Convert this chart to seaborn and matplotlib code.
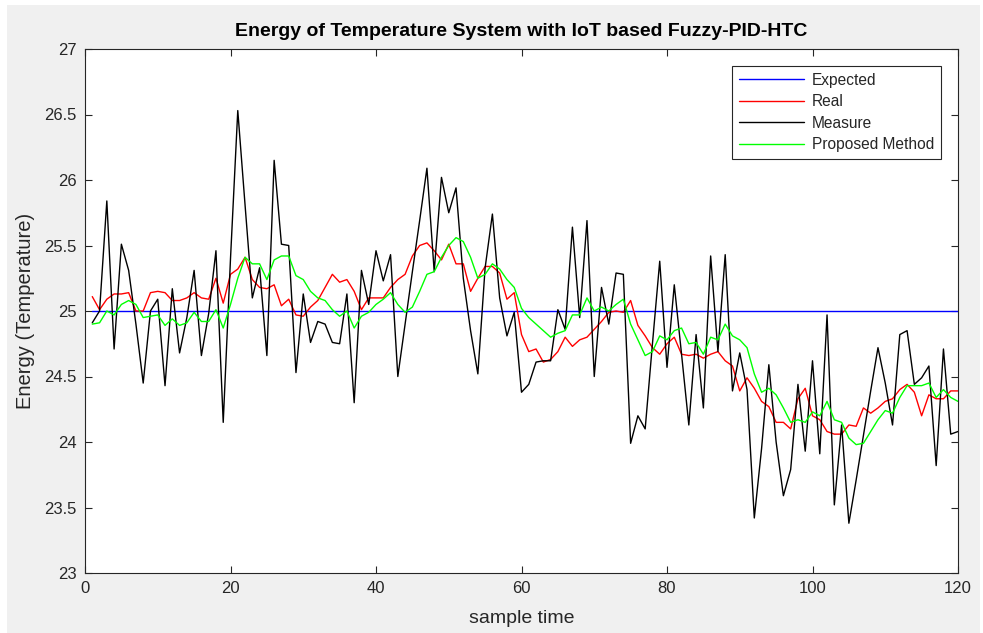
import numpy as np
import pandas as pd
import matplotlib
matplotlib.use("Agg")
import matplotlib.pyplot as plt
import seaborn as sns
from matplotlib.patches import Rectangle

# sample index 1..120
sample_time = list(range(1, 121))
expected_level = 25.0

measure = [
    24.91, 25.00, 25.84, 24.71, 25.51, 25.31, 24.90, 24.45, 25.00, 25.09,
    24.43, 25.17, 24.68, 24.95, 25.31, 24.66, 24.98, 25.46, 24.15, 25.40,
    26.53, 25.81, 25.10, 25.33, 24.66, 26.15, 25.51, 25.50, 24.53, 25.13,
    24.76, 24.92, 24.90, 24.76, 24.75, 25.13, 24.30, 25.31, 25.05, 25.46,
    25.23, 25.43, 24.50, 24.90, 25.30, 25.69, 26.09, 25.30, 26.02, 25.75,
    25.94, 25.25, 24.85, 24.52, 25.33, 25.74, 25.10, 24.81, 24.99, 24.38,
    24.44, 24.61, 24.62, 24.62, 25.01, 24.86, 25.64, 24.95, 25.69, 24.50,
    25.18, 24.90, 25.29, 25.28, 23.99, 24.20, 24.10, 24.75, 25.38, 24.57,
    25.20, 24.67, 24.13, 24.82, 24.26, 25.42, 24.69, 25.43, 24.39, 24.68,
    24.40, 23.42, 23.95, 24.59, 24.00, 23.59, 23.79, 24.44, 23.93, 24.62,
    23.91, 24.97, 23.52, 24.13, 23.38, 23.71, 24.05, 24.39, 24.72, 24.45,
    24.13, 24.82, 24.85, 24.44, 24.49, 24.58, 23.82, 24.71, 24.06, 24.08,
]

real = [
    25.11, 25.01, 25.09, 25.13, 25.13, 25.14, 25.00, 25.00, 25.14, 25.15,
    25.14, 25.08, 25.08, 25.10, 25.14, 25.10, 25.09, 25.25, 25.06, 25.28,
    25.32, 25.41, 25.24, 25.18, 25.17, 25.20, 25.04, 25.09, 24.97, 24.96,
    25.03, 25.08, 25.18, 25.28, 25.22, 25.24, 25.15, 25.01, 25.10, 25.10,
    25.10, 25.18, 25.24, 25.28, 25.42, 25.50, 25.52, 25.46, 25.39, 25.51,
    25.36, 25.36, 25.15, 25.25, 25.34, 25.34, 25.29, 25.09, 25.14, 24.82,
    24.69, 24.71, 24.61, 24.63, 24.69, 24.80, 24.73, 24.78, 24.80, 24.86,
    24.92, 24.99, 25.00, 24.99, 25.08, 24.89, 24.81, 24.72, 24.67, 24.75,
    24.80, 24.67, 24.66, 24.67, 24.64, 24.67, 24.69, 24.62, 24.58, 24.39,
    24.49, 24.41, 24.31, 24.27, 24.15, 24.15, 24.10, 24.33, 24.41, 24.20,
    24.17, 24.08, 24.06, 24.06, 24.13, 24.12, 24.26, 24.22, 24.26, 24.31,
    24.33, 24.40, 24.44, 24.38, 24.20, 24.36, 24.33, 24.33, 24.39, 24.39,
]

proposed = [
    24.90, 24.91, 25.00, 24.97, 25.05, 25.08, 25.05, 24.95, 24.96, 24.97,
    24.89, 24.94, 24.89, 24.91, 24.99, 24.92, 24.92, 25.01, 24.87, 25.05,
    25.25, 25.41, 25.36, 25.36, 25.24, 25.39, 25.42, 25.42, 25.27, 25.24,
    25.15, 25.10, 25.08, 25.01, 24.96, 25.00, 24.87, 24.96, 24.99, 25.05,
    25.09, 25.14, 25.05, 24.99, 25.03, 25.15, 25.28, 25.30, 25.41, 25.50,
    25.56, 25.53, 25.41, 25.25, 25.28, 25.36, 25.32, 25.24, 25.18, 25.02,
    24.95, 24.90, 24.85, 24.80, 24.83, 24.85, 24.97, 24.97, 25.10, 25.00,
    25.03, 25.00, 25.05, 25.09, 24.90, 24.78, 24.66, 24.69, 24.81, 24.78,
    24.85, 24.87, 24.75, 24.76, 24.67, 24.80, 24.78, 24.90, 24.81, 24.78,
    24.72, 24.52, 24.38, 24.41, 24.36, 24.26, 24.15, 24.17, 24.15, 24.23,
    24.20, 24.31, 24.17, 24.15, 24.03, 23.98, 23.99, 24.08, 24.17, 24.24,
    24.22, 24.34, 24.43, 24.43, 24.43, 24.45, 24.34, 24.40, 24.34, 24.31,
]

series_names = ["Expected", "Real", "Measure", "Proposed Method"]
series_colors = ["#0000ff", "#ff0000", "#000000", "#00ff00"]

df = pd.DataFrame({
    "sample time": sample_time,
    "Expected": [expected_level] * len(sample_time),
    "Real": real,
    "Measure": measure,
    "Proposed Method": proposed,
})
long_df = df.melt(id_vars="sample time", var_name="series", value_name="value")

sns.set_style("white")
plt.rcParams["font.family"] = ["Liberation Sans", "DejaVu Sans"]

fig = plt.figure(figsize=(9.83, 6.33), dpi=100, facecolor="white")
# grey MATLAB-style figure panel behind the axes
bg = Rectangle((0.007, 0.0), 0.99, 0.992, transform=fig.transFigure,
               facecolor="#f0f0f0", edgecolor="none", zorder=-10)
fig.patches.append(bg)
ax = fig.add_axes([85 / 983, 60 / 633, 873 / 983, 524 / 633])
ax.set_facecolor("white")

sns.lineplot(data=long_df, x="sample time", y="value", hue="series",
             hue_order=series_names, palette=dict(zip(series_names, series_colors)),
             linewidth=1.0, ax=ax, estimator=None, sort=False)

ax.set_xlim(0, 120)
ax.set_ylim(23, 27)
ax.set_xticks(np.arange(0, 121, 20))
ax.set_yticks(np.arange(23, 27.01, 0.5))
ax.set_yticklabels(["23", "23.5", "24", "24.5", "25", "25.5", "26", "26.5", "27"])

for side in ["top", "right", "bottom", "left"]:
    ax.spines[side].set_visible(True)
    ax.spines[side].set_color("#262626")
    ax.spines[side].set_linewidth(0.8)
ax.tick_params(direction="in", length=5, width=0.8, color="#262626",
               labelsize=12, labelcolor="#262626", top=True, right=True,
               bottom=True, left=True, pad=6)

ax.set_title("Energy of Temperature System with IoT based Fuzzy-PID-HTC",
             fontsize=14, fontweight="bold", color="black", pad=9)
ax.set_xlabel("sample time", fontsize=14, color="#262626", labelpad=10)
ax.set_ylabel("Energy (Temperature)", fontsize=14.5, color="#262626", labelpad=7)

leg = ax.legend(loc="upper right", bbox_to_anchor=(0.9805, 0.9685), fontsize=11.2,
                frameon=True, fancybox=False, framealpha=1, edgecolor="#262626",
                borderpad=0.45, labelspacing=0.42, handlelength=4.2, handletextpad=0.5,
                borderaxespad=0)
leg.get_frame().set_linewidth(0.8)

fig.savefig("out.png", dpi=100, facecolor=fig.get_facecolor())
